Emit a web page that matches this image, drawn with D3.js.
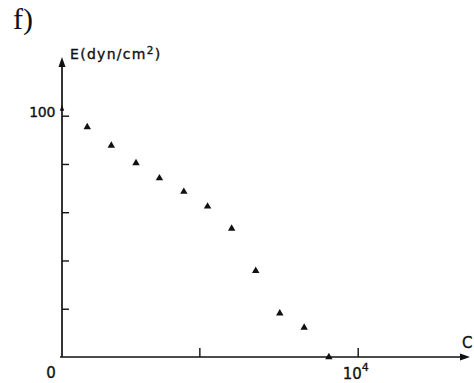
<!DOCTYPE html>
<html>
<head>
<meta charset="utf-8">
<script src="https://cdn.jsdelivr.net/npm/d3@7"></script>
<style>
  html, body { margin: 0; padding: 0; background: #fff; }
  svg { display: block; }
  text { fill: #111; stroke: #111; stroke-width: 0.35px; }
  text.serif { stroke: none; }
</style>
</head>
<body>
<svg id="chart" width="474" height="383"></svg>
<script>
// Concentration C and modulus E (dyn/cm²)
const concentration = [1460, 2220, 3000, 3740, 4510, 5260, 6020, 6780, 7540, 8310, 9090];
const modulus       = [95.3, 87.6, 80.4, 74.1, 68.5, 62.4, 53.2, 35.7, 18.1, 12.2, 0];
const xTickValues = [5000, 10000];
const yTickValues = [20, 40, 60, 80, 100];
const yTickLabels = ["", "", "", "", "100"];

const svg = d3.select("#chart");
const ink = "#111";
const sans = "DejaVu Sans, sans-serif";

const x = d3.scaleLinear().domain([0, 10000]).range([41, 357.7]);
const y = d3.scaleLinear().domain([0, 100]).range([357, 115.7]);

const axisX0 = 62;          // where the vertical axis stands
const axisY0 = y(0);
const xEnd = 470, yEnd = 57;

// axis lines with arrowheads
svg.append("line").attr("x1", axisX0 - 2).attr("x2", xEnd - 6)
  .attr("y1", axisY0).attr("y2", axisY0).attr("stroke", ink).attr("stroke-width", 1.7);
svg.append("path")
  .attr("d", `M${xEnd},${axisY0} L${xEnd - 10},${axisY0 - 3.5} L${xEnd - 10},${axisY0 + 3.5} Z`)
  .attr("fill", ink);

svg.append("line").attr("x1", axisX0).attr("x2", axisX0)
  .attr("y1", axisY0).attr("y2", yEnd + 6).attr("stroke", ink).attr("stroke-width", 1.7);
svg.append("path")
  .attr("d", `M${axisX0},${yEnd} L${axisX0 - 3.5},${yEnd + 10} L${axisX0 + 3.5},${yEnd + 10} Z`)
  .attr("fill", ink);
// small arrow mark just above the 100 level
svg.append("path")
  .attr("d", `M${axisX0},${y(104.5)} L${axisX0 - 2.2},${y(102)} L${axisX0 + 2.2},${y(102)} Z`)
  .attr("fill", ink);

// y ticks pointing inward
const yAxis = d3.axisRight(y).tickValues(yTickValues).tickSize(7).tickFormat("");
const gy = svg.append("g").attr("transform", `translate(${axisX0},0)`).call(yAxis);
gy.select(".domain").remove();
gy.selectAll(".tick line").attr("stroke", ink).attr("stroke-width", 1.4);

yTickValues.forEach((v, i) => {
  if (!yTickLabels[i]) return;
  svg.append("text").attr("x", 55).attr("y", y(v) + 1)
    .attr("text-anchor", "end")
    .attr("font-family", sans).attr("font-size", 14)
    .attr("letter-spacing", -0.3)
    .text(yTickLabels[i]);
});

// x ticks pointing upward
const xAxis = d3.axisBottom(x).tickValues(xTickValues).tickSize(-9).tickFormat("");
const gx = svg.append("g").attr("transform", `translate(0,${axisY0})`).call(xAxis);
gx.select(".domain").remove();
gx.selectAll(".tick line").attr("stroke", ink).attr("stroke-width", 1.4);

// tick labels
svg.append("text").attr("x", 51).attr("y", 378)
  .attr("text-anchor", "middle")
  .attr("font-family", sans).attr("font-size", 15)
  .text("0");
const t4 = svg.append("text").attr("x", x(10000) - 15).attr("y", 379)
  .attr("font-family", sans).attr("font-size", 15);
t4.append("tspan").text("10");
t4.append("tspan").attr("dy", -8).attr("font-size", 11).text("4");

// axis titles
svg.append("text").attr("x", 462).attr("y", 348)
  .attr("font-family", sans).attr("font-size", 15)
  .text("C");
const et = svg.append("text").attr("x", 70).attr("y", 59)
  .attr("font-family", sans).attr("font-size", 14)
  .attr("letter-spacing", 1.3);
et.append("tspan").text("E(dyn/cm");
et.append("tspan").attr("dy", -5).attr("font-size", 10.5).text("2");
et.append("tspan").attr("dy", 5).text(")");

// panel label
svg.append("text").attr("class", "serif").attr("x", 13).attr("y", 29)
  .attr("font-family", "Liberation Serif, Times New Roman, serif").attr("font-size", 30)
  .text("f)");

// data points
svg.append("g").selectAll("path")
  .data(concentration.map((c, i) => [c, modulus[i]]))
  .join("path")
  .attr("transform", d => `translate(${x(d[0])},${y(d[1])})`)
  .attr("d", d3.symbol(d3.symbolTriangle, 24))
  .attr("fill", ink);
</script>
</body>
</html>
